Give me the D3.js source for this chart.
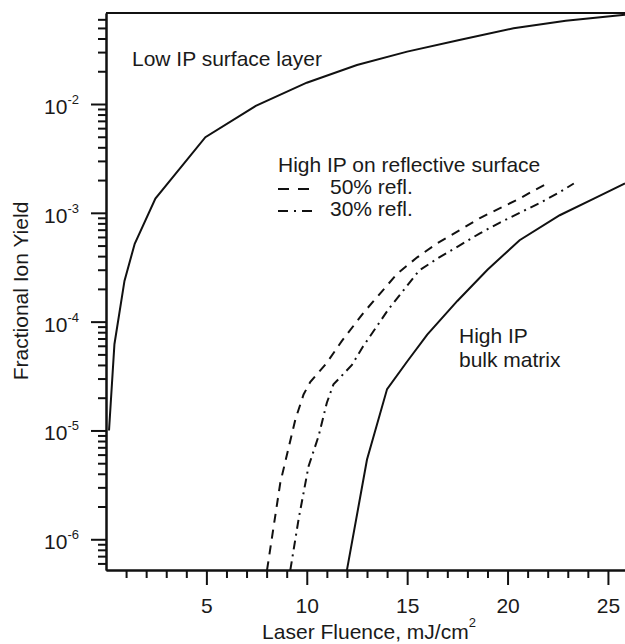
<!DOCTYPE html>
<html>
<head>
<meta charset="utf-8">
<script src="https://cdnjs.cloudflare.com/ajax/libs/d3/7.8.5/d3.min.js"></script>
<style>
  body { margin: 0; background: #fff; }
  text { font-family: Arial, "Liberation Sans", sans-serif; fill: #1a1a1a; }
</style>
</head>
<body>
<div id="chart"></div>
<script>
// Series: fluence (mJ/cm^2) and fractional ion yield
var lowIpX = [0.15, 0.42, 0.92, 1.43, 2.46, 4.95, 7.46, 10.0, 12.5, 15.0, 17.6, 20.3, 22.9, 25.85];
var lowIpY = [1.0e-5, 6.2e-5, 2.37e-4, 5.2e-4, 1.35e-3, 4.95e-3, 9.6e-3, 1.57e-2, 2.28e-2, 3.03e-2, 3.87e-2, 4.97e-2, 5.83e-2, 6.6e-2];

var refl50X = [8.02, 8.68, 9.43, 9.84, 10.17, 11.0, 11.75, 12.83, 14.5, 15.5, 16.5, 17.6, 18.6, 19.6, 20.6, 21.3, 22.0];
var refl50Y = [5.2e-7, 3.3e-6, 1.26e-5, 2.14e-5, 2.78e-5, 4.19e-5, 6.65e-5, 1.21e-4, 2.75e-4, 3.9e-4, 5.25e-4, 6.9e-4, 8.9e-4, 1.1e-3, 1.35e-3, 1.6e-3, 1.87e-3];

var refl30X = [9.18, 9.59, 10.09, 10.59, 11.0, 11.33, 12.25, 12.8, 14.07, 15.6, 16.6, 17.6, 18.6, 19.6, 20.6, 21.6, 22.6, 23.3];
var refl30Y = [5.2e-7, 1.52e-6, 4.7e-6, 8.9e-6, 1.8e-5, 2.65e-5, 4.0e-5, 5.9e-5, 1.3e-4, 2.95e-4, 3.9e-4, 5.0e-4, 6.45e-4, 8.1e-4, 1.0e-3, 1.23e-3, 1.55e-3, 1.86e-3];

var bulkX = [12.0, 13.0, 14.0, 15.0, 16.0, 17.5, 19.0, 20.6, 22.6, 24.3, 25.85];
var bulkY = [5.2e-7, 5.4e-6, 2.4e-5, 4.3e-5, 7.6e-5, 1.55e-4, 3.0e-4, 5.6e-4, 9.5e-4, 1.35e-3, 1.86e-3];

// Tick values and labels
var xMajor = [5, 10, 15, 20, 25];
var xMinor = [1, 2, 3, 4, 6, 7, 8, 9, 11, 12, 13, 14, 16, 17, 18, 19, 21, 22, 23, 24];
var yMajor = [1e-6, 1e-5, 1e-4, 1e-3, 1e-2];
var yExponents = ["-6", "-5", "-4", "-3", "-2"];
var yMantissas = [2, 3, 4, 5, 6, 7, 8, 9];

// SVG area and margins
var svgWidth = 625;
var svgHeight = 644;

var chartMargin = {
  top: 13,
  right: 0,
  bottom: 74,
  left: 106
};

var chartWidth = svgWidth - chartMargin.left - chartMargin.right;
var chartHeight = svgHeight - chartMargin.top - chartMargin.bottom;

var svg = d3.select("#chart")
  .append("svg")
  .attr("width", svgWidth)
  .attr("height", svgHeight);

var chartGroup = svg.append("g")
  .attr("transform", `translate(${chartMargin.left}, ${chartMargin.top})`);

// Scales
var xScale = d3.scaleLinear()
  .domain([0, 25.85])
  .range([0, chartWidth]);

var yScale = d3.scaleLog()
  .domain([5.22e-7, 0.0686])
  .range([chartHeight, 0]);

// minor y ticks: 2..9 in every decade that falls inside the domain
var yMinor = [];
[1e-7, 1e-6, 1e-5, 1e-4, 1e-3, 1e-2].forEach(function(d) {
  yMinor = yMinor.concat(yMantissas.map(m => m * d));
});
yMinor = yMinor.filter(v => v >= yScale.domain()[0] && v <= yScale.domain()[1]);

// X axis: minor then major ticks
chartGroup.append("g")
  .attr("class", "x-minor")
  .attr("transform", `translate(0, ${chartHeight})`)
  .call(d3.axisBottom(xScale).tickValues(xMinor).tickSize(8).tickSizeOuter(0).tickFormat(""));

chartGroup.append("g")
  .attr("class", "x-major")
  .attr("transform", `translate(0, ${chartHeight})`)
  .call(d3.axisBottom(xScale).tickValues(xMajor).tickSize(15).tickSizeOuter(0).tickPadding(13))
  .selectAll("text")
  .attr("font-size", "21px")
  .style("font-family", "Arial, 'Liberation Sans', sans-serif")
  .attr("fill", "#1a1a1a");

// Y axis: minor then major ticks
chartGroup.append("g")
  .attr("class", "y-minor")
  .call(d3.axisLeft(yScale).tickValues(yMinor).tickSize(8).tickSizeOuter(0).tickFormat(""));

chartGroup.append("g")
  .attr("class", "y-major")
  .call(d3.axisLeft(yScale).tickValues(yMajor).tickSize(15).tickSizeOuter(0).tickFormat(""));

chartGroup.selectAll(".domain, .tick line")
  .attr("stroke", "#111")
  .attr("stroke-width", 2);

// Y tick labels as 10 with superscript exponent
var yLabels = chartGroup.selectAll(".ylab")
  .data(yMajor)
  .enter()
  .append("text")
  .attr("class", "ylab")
  .attr("x", -27)
  .attr("y", d => yScale(d) + 10)
  .attr("text-anchor", "end")
  .attr("font-size", "21px");

yLabels.append("tspan").text("10");
yLabels.append("tspan")
  .attr("font-size", "13px")
  .attr("dy", -10)
  .text((d, i) => yExponents[i]);

// Top frame line
chartGroup.append("line")
  .attr("x1", 0)
  .attr("x2", chartWidth)
  .attr("y1", 0)
  .attr("y2", 0)
  .attr("stroke", "#111")
  .attr("stroke-width", 2);

// Curves
var line = d3.line()
  .x(d => xScale(d[0]))
  .y(d => yScale(d[1]));

var series = [
  { x: lowIpX, y: lowIpY, dash: null },
  { x: refl50X, y: refl50Y, dash: "9,7" },
  { x: refl30X, y: refl30Y, dash: "9,5,2,5" },
  { x: bulkX, y: bulkY, dash: null }
];

series.forEach(function(s) {
  chartGroup.append("path")
    .datum(d3.zip(s.x, s.y))
    .attr("d", line)
    .attr("fill", "none")
    .attr("stroke", "#111")
    .attr("stroke-width", 2)
    .attr("stroke-dasharray", s.dash);
});

// Annotations (absolute svg coordinates)
svg.append("text")
  .attr("x", 132)
  .attr("y", 66)
  .attr("font-size", "21px")
  .text("Low IP surface layer");

svg.append("text")
  .attr("x", 278)
  .attr("y", 172)
  .attr("font-size", "21px")
  .text("High IP on reflective surface");

svg.append("text")
  .attr("x", 330)
  .attr("y", 194)
  .attr("font-size", "21px")
  .text("50% refl.");

svg.append("text")
  .attr("x", 330)
  .attr("y", 216)
  .attr("font-size", "21px")
  .text("30% refl.");

// legend samples
svg.append("line")
  .attr("x1", 278).attr("x2", 313)
  .attr("y1", 189).attr("y2", 189)
  .attr("stroke", "#111").attr("stroke-width", 2)
  .attr("stroke-dasharray", "11,9");

svg.append("line")
  .attr("x1", 278).attr("x2", 313)
  .attr("y1", 211).attr("y2", 211)
  .attr("stroke", "#111").attr("stroke-width", 2)
  .attr("stroke-dasharray", "10,6,2,6");

svg.append("text")
  .attr("x", 459)
  .attr("y", 343)
  .attr("font-size", "21px")
  .text("High IP");

svg.append("text")
  .attr("x", 459)
  .attr("y", 367)
  .attr("font-size", "21px")
  .text("bulk matrix");

// Axis titles
var xTitle = svg.append("text")
  .attr("x", 369)
  .attr("y", 639)
  .attr("text-anchor", "middle")
  .attr("font-size", "21px");

xTitle.append("tspan").text("Laser Fluence, mJ/cm");
xTitle.append("tspan")
  .attr("font-size", "13px")
  .attr("dy", -12)
  .text("2");

svg.append("text")
  .attr("transform", "translate(28, 291) rotate(-90)")
  .attr("text-anchor", "middle")
  .attr("font-size", "21px")
  .text("Fractional Ion Yield");
</script>
</body>
</html>
